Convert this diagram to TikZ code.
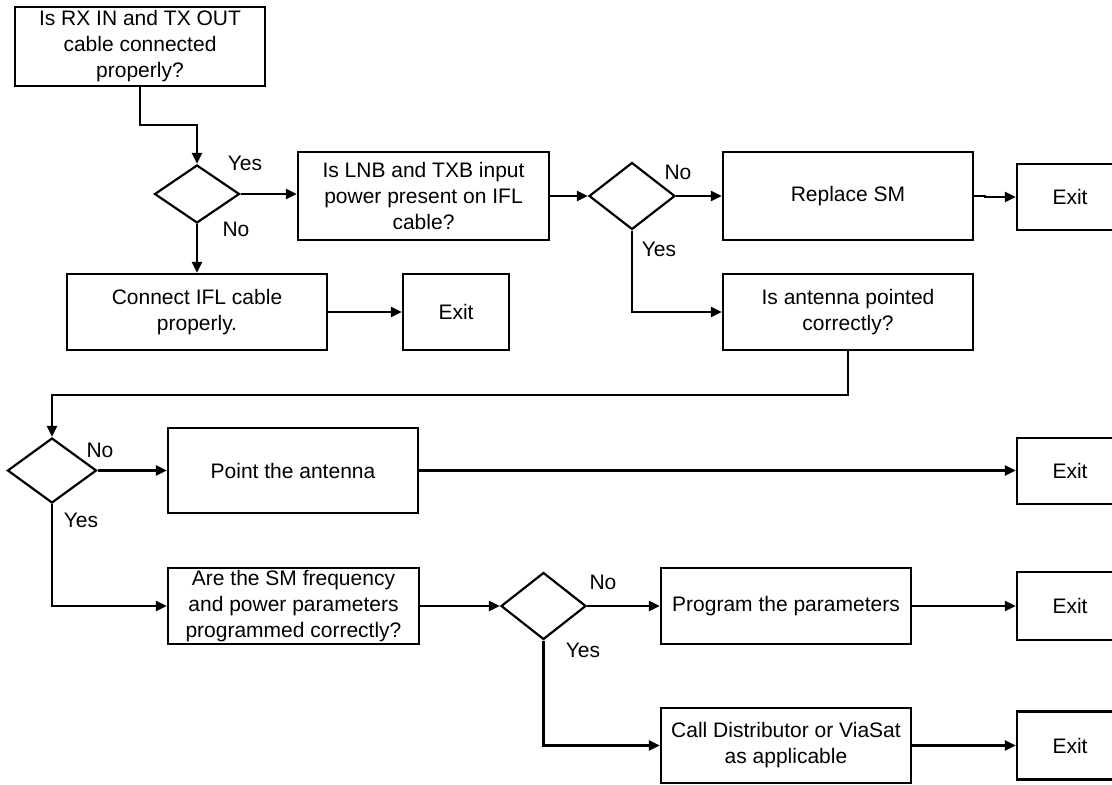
\documentclass[tikz,border=0pt]{standalone}
\usepackage{fontspec}
\setmainfont{Liberation Sans}
\usetikzlibrary{shapes.geometric,arrows.meta}

\begin{document}
\begin{tikzpicture}[x=1pt,y=-1pt]

\tikzset{
    box/.style={draw, line width=2.2pt, align=center, inner sep=0pt,
        font=\fontsize{21}{26}\selectfont},
    dec/.style={draw, diamond, line width=2.2pt, inner sep=0pt},
    exitbox/.style={box, minimum width=106pt},
    lbl/.style={font=\fontsize{21}{26}\selectfont},
    arr/.style={line width=2.2pt, -{Triangle[length=11pt,width=10pt]}}
}
\useasboundingbox (0,0) rectangle (1112,785);
\clip (0,0) rectangle (1112,785);

% first row
\node[box, minimum width=250pt, minimum height=79pt] (cable) at (140,46.5) {Is RX IN and TX OUT\\cable connected\\properly?};
\node[dec, minimum width=85pt, minimum height=58pt] (d1) at (197,194) {};
\node[box, minimum width=251pt, minimum height=88pt] (power) at (423.5,196) {Is LNB and TXB input\\power present on IFL\\cable?};
\node[dec, minimum width=86pt, minimum height=67pt] (d2) at (632,196) {};
\node[box, minimum width=250pt, minimum height=88pt] (replace) at (848,196) {Replace SM};
\node[exitbox, minimum height=66pt] (exitA) at (1070,197) {Exit};

\node[box, minimum width=260pt, minimum height=76pt] (connect) at (197,312) {Connect IFL cable\\properly.};
\node[exitbox, minimum height=76pt] (exitB) at (456,312) {Exit};
\node[box, minimum width=250pt, minimum height=76pt] (pointed) at (848,312) {Is antenna pointed\\correctly?};

% antenna
\node[dec, minimum width=89pt, minimum height=65pt] (d3) at (52,470.5) {};
\node[box, minimum width=250pt, minimum height=85pt] (point) at (293,470.5) {Point the antenna};
\node[exitbox, minimum height=66pt] (exitC) at (1070,471) {Exit};

% parameters
\node[box, minimum width=251pt, minimum height=76pt] (params) at (293.5,606) {Are the SM frequency\\and power parameters\\programmed correctly?};
\node[dec, minimum width=85pt, minimum height=67pt] (d4) at (543.5,606) {};
\node[box, minimum width=250pt, minimum height=76pt] (program) at (786,606) {Program the parameters};
\node[exitbox, minimum height=68pt] (exitD) at (1070,606) {Exit};
\node[box, minimum width=250pt, minimum height=75pt] (call) at (786,745.5) {Call Distributor or ViaSat\\as applicable};
\node[exitbox, minimum height=68pt] (exitE) at (1070,745.5) {Exit};

% yes / no
\node[lbl] (y1) at (245,163) {Yes};
\node[lbl] (n1) at (236,229) {No};
\node[lbl] (n2) at (678,172) {No};
\node[lbl] (y2) at (659,249) {Yes};
\node[lbl] (n3) at (100,450) {No};
\node[lbl] (y3) at (81,520) {Yes};
\node[lbl] (n4) at (603,582) {No};
\node[lbl] (y4) at (583,650) {Yes};

\draw[arr] (cable.south) -- ++(0,38) -| (d1.north);
\draw[arr] (d1.east) -- (d1.east -| power.west);
\draw[arr] (d1.south) -- (connect.north);
\draw[arr] (connect.east) -- (exitB.west);
\draw[arr] (power.east) -- (d2.west);
\draw[arr] (d2.east) -- (replace.west);
\draw[arr] (replace.east) -- ++(11,0) |- (exitA.west);
\draw[arr] (d2.south) |- (pointed.west);
\draw[arr] (pointed.south) -- ++(0,44) -| (d3.north);
\draw[arr] (d3.east) -- (point.west);
\draw[arr] (point.east) -- (point.east -| exitC.west);
\draw[arr] (d3.south) |- (params.west);
\draw[arr] (params.east) -- (d4.west);
\draw[arr] (d4.east) -- (program.west);
\draw[arr] (program.east) -- (exitD.west);
\draw[arr] (d4.south) |- (call.west);
\draw[arr] (call.east) -- (exitE.west);
\end{tikzpicture}
\end{document}
